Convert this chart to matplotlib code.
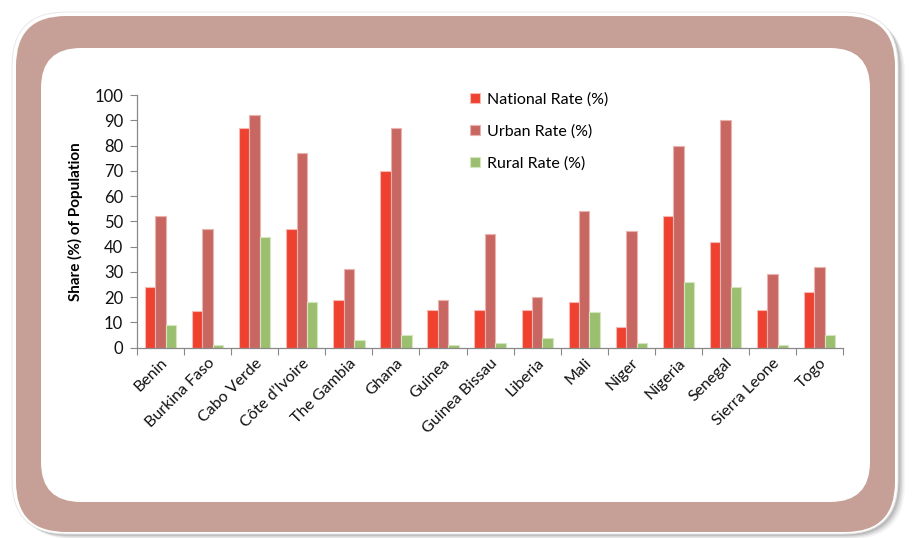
import matplotlib
matplotlib.use("Agg")
import matplotlib.pyplot as plt
import numpy as np
from matplotlib.patches import FancyBboxPatch

countries = ["Benin", "Burkina Faso", "Cabo Verde", "Côte d’Ivoire", "The Gambia",
             "Ghana", "Guinea", "Guinea Bissau", "Liberia", "Mali", "Niger",
             "Nigeria", "Senegal", "Sierra Leone", "Togo"]
national = [24.2, 14.5, 87, 47, 18.8, 70, 15, 15, 15, 18, 8, 52, 42, 15, 22]
urban = [52, 47, 92, 77, 31, 87, 19, 45, 20, 54, 46, 80, 90, 29, 32]
rural = [9, 1, 44, 18, 3, 5, 1, 2, 4, 14, 2, 26, 24, 1, 5]
series_names = ["National Rate (%)", "Urban Rate (%)", "Rural Rate (%)"]
colors = ["#EE4130", "#C86762", "#9BBF6F"]
edges = ["#F7B9B2", "#EBB3AE", "#D4E6BF"]

plt.rcParams['font.family'] = ['Lato', 'DejaVu Sans']

W, H = 915, 538
fig = plt.figure(figsize=(W / 100, H / 100), dpi=100)
fig.patch.set_facecolor("white")

# background frame
bg = fig.add_axes([0, 0, 1, 1])
bg.set_xlim(0, W)
bg.set_ylim(H, 0)
bg.axis("off")
# shadow (right/bottom)
for i, a in enumerate([0.04, 0.06, 0.08, 0.10]):
    off = 7 - i * 1.5
    bg.add_patch(FancyBboxPatch((12 + off, 12 + off), 886, 522 - off * 0.3,
                                boxstyle="round,pad=0,rounding_size=54",
                                fc="#000000", ec="none", alpha=a))
bg.add_patch(FancyBboxPatch((12, 12), 886, 522,
                            boxstyle="round,pad=0,rounding_size=54",
                            fc="white", ec="#e4e4e4", lw=0.6))
bg.add_patch(FancyBboxPatch((16, 16), 879, 516,
                            boxstyle="round,pad=0,rounding_size=50",
                            fc="#C6A096", ec="none"))
bg.add_patch(FancyBboxPatch((41, 48), 829, 454,
                            boxstyle="round,pad=0,rounding_size=40",
                            fc="white", ec="none"))

ax = fig.add_axes([137 / W, 1 - 347.7 / H, (843.2 - 137) / W, (347.7 - 95) / H])
ax.patch.set_alpha(0)
x = np.arange(len(countries))
bw = 0.222
for k, (vals, c, e, n) in enumerate(zip([national, urban, rural], colors, edges, series_names)):
    ax.bar(x + (k - 1) * bw, vals, width=bw, color=c, edgecolor=e, linewidth=0.8, label=n, zorder=2)

ax.set_xlim(-0.5, len(countries) - 0.5)
ax.set_ylim(0, 100)
ax.set_yticks(range(0, 101, 10))
ax.set_xticks(np.arange(-0.5, len(countries), 1), minor=False)
ax.set_xticklabels([])
ax.set_xticks(x, minor=True)
ax.set_xticklabels(countries, minor=True, rotation=45, ha="right", rotation_mode="anchor",
                   fontsize=11.5, color="#111111")
ax.tick_params(axis="x", which="minor", length=0, pad=6)
ax.tick_params(axis="x", which="major", length=5, direction="out", color="#888888")
ax.tick_params(axis="y", length=5, direction="out", color="#888888", labelsize=12, labelcolor="#111111", pad=5)
for s in ["top", "right"]:
    ax.spines[s].set_visible(False)
for s in ["left", "bottom"]:
    ax.spines[s].set_color("#888888")
    ax.spines[s].set_linewidth(0.9)
ax.set_ylabel("Share (%) of Population", fontsize=11, fontweight="bold", labelpad=8)

leg = ax.legend(loc="upper left", bbox_to_anchor=((464 - 137) / (843.2 - 137), 1.035),
                frameon=False, fontsize=11.5, handlelength=0.6, handleheight=0.6,
                handletextpad=0.45, labelspacing=1.1, borderaxespad=0)

fig.savefig("out.png", dpi=100, facecolor="white")
